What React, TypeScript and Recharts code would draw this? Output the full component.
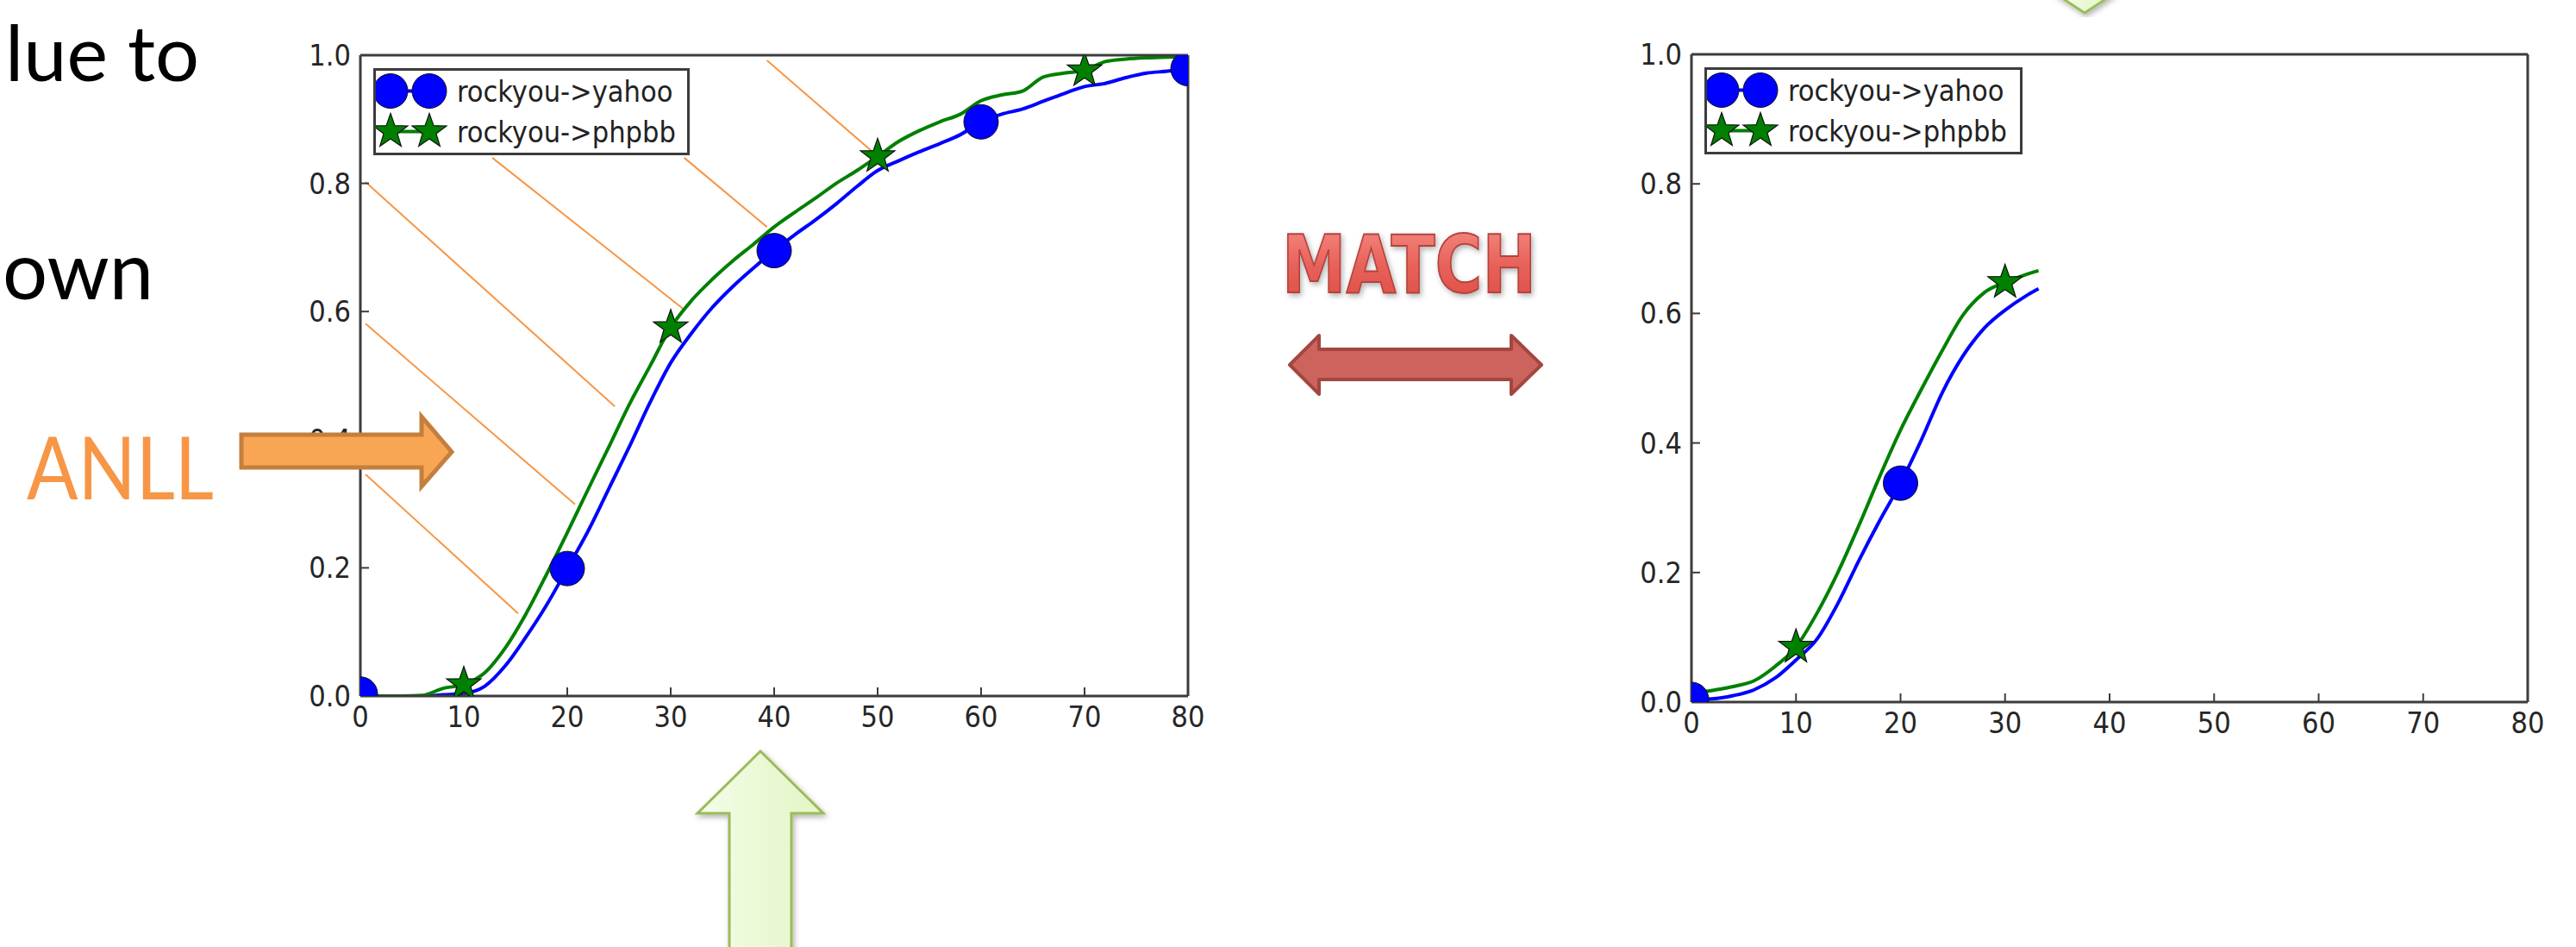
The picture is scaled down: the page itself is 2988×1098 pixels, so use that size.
import React from "react";
import { LineChart, Line, XAxis, YAxis, Legend, ReferenceLine } from "recharts";

// ---- data ----
const xTicks = [0, 10, 20, 30, 40, 50, 60, 70, 80];
const yTicks = [0, 0.2, 0.4, 0.6, 0.8, 1.0];

const leftX = [0, 2, 4, 6, 8, 10, 12, 14, 16, 18, 20, 22, 24, 26, 28, 30, 32, 34, 36, 38, 40, 42, 44, 46, 48, 50, 52, 54, 56, 58, 60, 62, 64, 66, 68, 70, 72, 74, 76, 78, 80];
const leftYahoo = [0.003, 0, 0, 0, 0.002, 0.004, 0.015, 0.047, 0.092, 0.142, 0.199, 0.257, 0.323, 0.389, 0.458, 0.52, 0.566, 0.606, 0.639, 0.668, 0.695, 0.72, 0.743, 0.768, 0.795, 0.82, 0.835, 0.849, 0.862, 0.876, 0.896, 0.908, 0.916, 0.928, 0.94, 0.951, 0.956, 0.965, 0.972, 0.975, 0.979];
const leftPhpbb = [0, 0, 0, 0.001, 0.012, 0.018, 0.036, 0.075, 0.128, 0.19, 0.255, 0.322, 0.388, 0.455, 0.515, 0.575, 0.617, 0.65, 0.679, 0.705, 0.732, 0.755, 0.777, 0.8, 0.82, 0.842, 0.865, 0.882, 0.896, 0.908, 0.929, 0.938, 0.944, 0.966, 0.972, 0.976, 0.99, 0.994, 0.996, 0.997, 0.998];

const rightX = [0, 2, 4, 6, 8, 10, 12, 14, 16, 18, 20, 22, 24, 26, 28, 30, 32, 33.2];
const rightYahoo = [0.004, 0.005, 0.01, 0.019, 0.037, 0.065, 0.097, 0.152, 0.218, 0.28, 0.338, 0.405, 0.478, 0.535, 0.577, 0.605, 0.627, 0.638];
const rightPhpbb = [0.013, 0.018, 0.024, 0.033, 0.055, 0.085, 0.137, 0.2, 0.272, 0.348, 0.42, 0.483, 0.543, 0.598, 0.632, 0.648, 0.66, 0.666];

// matplotlib markevery: circles / stars only on these x values
const yahooMarks = [0, 20, 40, 60, 80];
const phpbbMarks = [10, 30, 50, 70];
const seriesOrder = ["yahoo", "phpbb"];

// orange hatching drawn over the left plot (data coords)
const anllHatch = [
  [[39.3, 0.992], [50.1, 0.841]],
  [[31.3, 0.84], [39.3, 0.732]],
  [[12.75, 0.84], [31.3, 0.603]],
  [[0.5, 0.802], [24.6, 0.452]],
  [[0.5, 0.581], [20.75, 0.299]],
  [[0.5, 0.346], [15.25, 0.129]],
];

const leftRows = leftX.map((x, i) => ({ x, yahoo: leftYahoo[i], phpbb: leftPhpbb[i] }));
const rightRows = rightX.map((x, i) => ({ x, yahoo: rightYahoo[i], phpbb: rightPhpbb[i] }));

const BLUE = "#0000ff";
const GREEN = "#008000";
const AXIS = "#3c3c3c";
const MPL_FONT = "'DejaVu Sans Condensed', 'DejaVu Sans', sans-serif";

function starPoints(cx: number, cy: number, R: number) {
  const pts: string[] = [];
  for (let i = 0; i < 10; i++) {
    const a = (-90 + i * 36) * (Math.PI / 180);
    const r = i % 2 ? R * 0.4 : R;
    pts.push(`${cx + r * Math.cos(a)},${cy + r * Math.sin(a)}`);
  }
  return pts.join(" ");
}

const makeDot = (marks: number[], kind: "circle" | "star", color: string) => (p: any) => {
  const key = `${kind}-${p.index}`;
  if (!marks.includes(p.payload.x)) return <g key={key} />;
  if (kind === "circle")
    return <circle key={key} cx={p.cx} cy={p.cy} r={20} fill={color} stroke="#111" strokeWidth={1} />;
  return <polygon key={key} points={starPoints(p.cx, p.cy, 21)} fill={color} stroke="#111" strokeWidth={1.2} />;
};

function LegendBox({ payload, width }: any) {
  const items = [...(payload || [])]
    .filter((e: any) => e.type !== "none" && String(e.value).includes("->"))
    .sort((a: any, b: any) => seriesOrder.indexOf(a.dataKey) - seriesOrder.indexOf(b.dataKey));
  return (
    <div
      style={{
        width,
        height: 101,
        boxSizing: "border-box",
        border: `3px solid ${AXIS}`,
        background: "#fff",
      }}
    >
      {items.map((e: any) => {
        const isStar = e.dataKey === "phpbb";
        const color = isStar ? GREEN : BLUE;
        return (
          <div key={e.dataKey} style={{ display: "flex", alignItems: "center", height: 47 }}>
            <svg width={86} height={47}>
              <line x1={17} y1={23.5} x2={62} y2={23.5} stroke={color} strokeWidth={4} />
              {isStar ? (
                <>
                  <polygon points={starPoints(17, 23.5, 21)} fill={color} stroke="#111" strokeWidth={1.2} />
                  <polygon points={starPoints(62, 23.5, 21)} fill={color} stroke="#111" strokeWidth={1.2} />
                </>
              ) : (
                <>
                  <circle cx={17} cy={23.5} r={20} fill={color} stroke="#111" strokeWidth={1} />
                  <circle cx={62} cy={23.5} r={20} fill={color} stroke="#111" strokeWidth={1} />
                </>
              )}
            </svg>
            <span style={{ marginLeft: 8, fontFamily: MPL_FONT, fontSize: 34, color: "#222", lineHeight: 1 }}>
              {e.value}
            </span>
          </div>
        );
      })}
    </div>
  );
}

function CdfPanel({ rows, width, margin, legendPos, hatch }: any) {
  const tickStyle = { fill: "#262626", fontSize: 34, fontFamily: MPL_FONT };
  const frame = { stroke: AXIS, strokeWidth: 3 };
  const tickLine = { stroke: AXIS, strokeWidth: 2 };
  return (
    <LineChart width={width} height={900} data={rows} margin={margin}>
      <XAxis
        xAxisId="b"
        dataKey="x"
        type="number"
        domain={[0, 80]}
        ticks={xTicks}
        allowDataOverflow
        height={50}
        tickSize={-10}
        tickMargin={22}
        tick={tickStyle}
        axisLine={frame}
        tickLine={tickLine}
        interval={0}
      />
      <XAxis
        xAxisId="t"
        orientation="top"
        dataKey="x"
        type="number"
        domain={[0, 80]}
        ticks={xTicks}
        allowDataOverflow
        height={1}
        tickSize={-10}
        tick={false}
        axisLine={frame}
        tickLine={tickLine}
        interval={0}
      />
      <YAxis
        yAxisId="l"
        type="number"
        domain={[0, 1]}
        ticks={yTicks}
        allowDataOverflow
        width={80}
        tickSize={-10}
        tickMargin={21}
        tick={tickStyle}
        tickFormatter={(v: number) => v.toFixed(1)}
        axisLine={frame}
        tickLine={tickLine}
        interval={0}
      />
      <YAxis
        yAxisId="r"
        orientation="right"
        type="number"
        domain={[0, 1]}
        ticks={yTicks}
        allowDataOverflow
        width={1}
        tickSize={-10}
        tick={false}
        axisLine={frame}
        tickLine={tickLine}
        interval={0}
      />
      {(hatch || []).map((seg: number[][], i: number) => (
        <ReferenceLine
          key={`h${i}`}
          xAxisId="b"
          yAxisId="l"
          segment={[
            { x: seg[0][0], y: seg[0][1] },
            { x: seg[1][0], y: seg[1][1] },
          ]}
          stroke="#F79646"
          strokeWidth={2}
        />
      ))}
      {/* invisible series keeps the top/right frame axes bound to the data */}
      <Line
        xAxisId="t"
        yAxisId="r"
        dataKey="yahoo"
        name="frame"
        stroke="none"
        dot={false}
        activeDot={false}
        legendType="none"
        isAnimationActive={false}
      />
      <Line
        xAxisId="b"
        yAxisId="l"
        dataKey="yahoo"
        name="rockyou->yahoo"
        type="monotone"
        stroke={BLUE}
        strokeWidth={4}
        dot={makeDot(yahooMarks, "circle", BLUE)}
        activeDot={false}
        isAnimationActive={false}
      />
      <Line
        xAxisId="b"
        yAxisId="l"
        dataKey="phpbb"
        name="rockyou->phpbb"
        type="monotone"
        stroke={GREEN}
        strokeWidth={4}
        dot={makeDot(phpbbMarks, "star", GREEN)}
        activeDot={false}
        isAnimationActive={false}
      />
      <Legend
        layout="horizontal"
        verticalAlign="middle"
        align="center"
        wrapperStyle={{ top: legendPos.top, left: legendPos.left, width: legendPos.width, height: 101 }}
        content={(props: any) => <LegendBox payload={props.payload} width={legendPos.width} />}
      />
    </LineChart>
  );
}

function Decorations() {
  return (
    <svg
      width={2988}
      height={1098}
      style={{ position: "absolute", left: 0, top: 0, pointerEvents: "none", overflow: "hidden" }}
    >
      <defs>
        <linearGradient id="redGrad" x1="0" y1="0" x2="0" y2="1">
          <stop offset="0" stopColor="#F58E86" />
          <stop offset="0.5" stopColor="#E8625A" />
          <stop offset="1" stopColor="#DA4A41" />
        </linearGradient>
        <linearGradient id="greenGrad" x1="0" y1="0" x2="1" y2="0">
          <stop offset="0" stopColor="#F4FCE8" />
          <stop offset="1" stopColor="#E2F6C4" />
        </linearGradient>
        <filter id="soft" x="-20%" y="-20%" width="140%" height="140%">
          <feDropShadow dx="2" dy="3" stdDeviation="3" floodColor="#000" floodOpacity="0.3" />
        </filter>
      </defs>

      <text
        x={6}
        y={94}
        fontFamily="Lato, 'Open Sans', sans-serif"
        fontSize={90}
        fill="#000"
        textLength={225}
        lengthAdjust="spacingAndGlyphs"
      >
        lue to
      </text>
      <text
        x={3}
        y={347}
        fontFamily="Lato, 'Open Sans', sans-serif"
        fontSize={94}
        fill="#000"
        textLength={175}
        lengthAdjust="spacingAndGlyphs"
      >
        own
      </text>

      <text
        x={31}
        y={579}
        fontFamily="Lato, 'Open Sans', sans-serif"
        fontSize={101}
        fill="#F79646"
        textLength={217}
        lengthAdjust="spacingAndGlyphs"
      >
        ANLL
      </text>
      <polygon
        points="280,504 489,504 489,483 524,524 489,564 489,542 280,542"
        fill="#F9A654"
        stroke="#C47F3E"
        strokeWidth={5}
      />

      <text
        x={1487}
        y={339}
        fontFamily="'DejaVu Sans', sans-serif"
        fontWeight="bold"
        fontSize={92}
        fill="url(#redGrad)"
        stroke="#B5433E"
        strokeWidth={2}
        textLength={295}
        lengthAdjust="spacingAndGlyphs"
        filter="url(#soft)"
      >
        MATCH
      </text>
      <polygon
        points="1496,423 1530,389 1530,405 1753,405 1753,389 1788,423 1753,457 1753,440 1530,440 1530,457"
        fill="#CD635D"
        stroke="#A2473F"
        strokeWidth={4}
        strokeLinejoin="round"
      />

      <polygon
        points="882,871 955,943 918,943 918,1110 846,1110 846,943 809,943"
        fill="url(#greenGrad)"
        stroke="#9BBB59"
        strokeWidth={3}
        filter="url(#soft)"
      />
      <polygon
        points="2418,15 2450,-6 2386,-6"
        fill="url(#greenGrad)"
        stroke="#9BBB59"
        strokeWidth={3}
        filter="url(#soft)"
      />
    </svg>
  );
}

export default function App() {
  return (
    <div
      style={{
        position: "absolute",
        left: 0,
        top: 0,
        width: 2988,
        height: 1098,
        background: "#fff",
        overflow: "hidden",
      }}
    >
      <div style={{ position: "absolute", left: 300, top: 0 }}>
        <CdfPanel
          rows={leftRows}
          width={1150}
          margin={{ top: 63, right: 71, bottom: 43, left: 38 }}
          legendPos={{ top: 79, left: 133, width: 367 }}
          hatch={anllHatch}
        />
      </div>
      <div style={{ position: "absolute", left: 1850, top: 0 }}>
        <CdfPanel
          rows={rightRows}
          width={1122}
          margin={{ top: 62, right: 39, bottom: 36, left: 32 }}
          legendPos={{ top: 78, left: 127, width: 369 }}
        />
      </div>
      <Decorations />
    </div>
  );
}
